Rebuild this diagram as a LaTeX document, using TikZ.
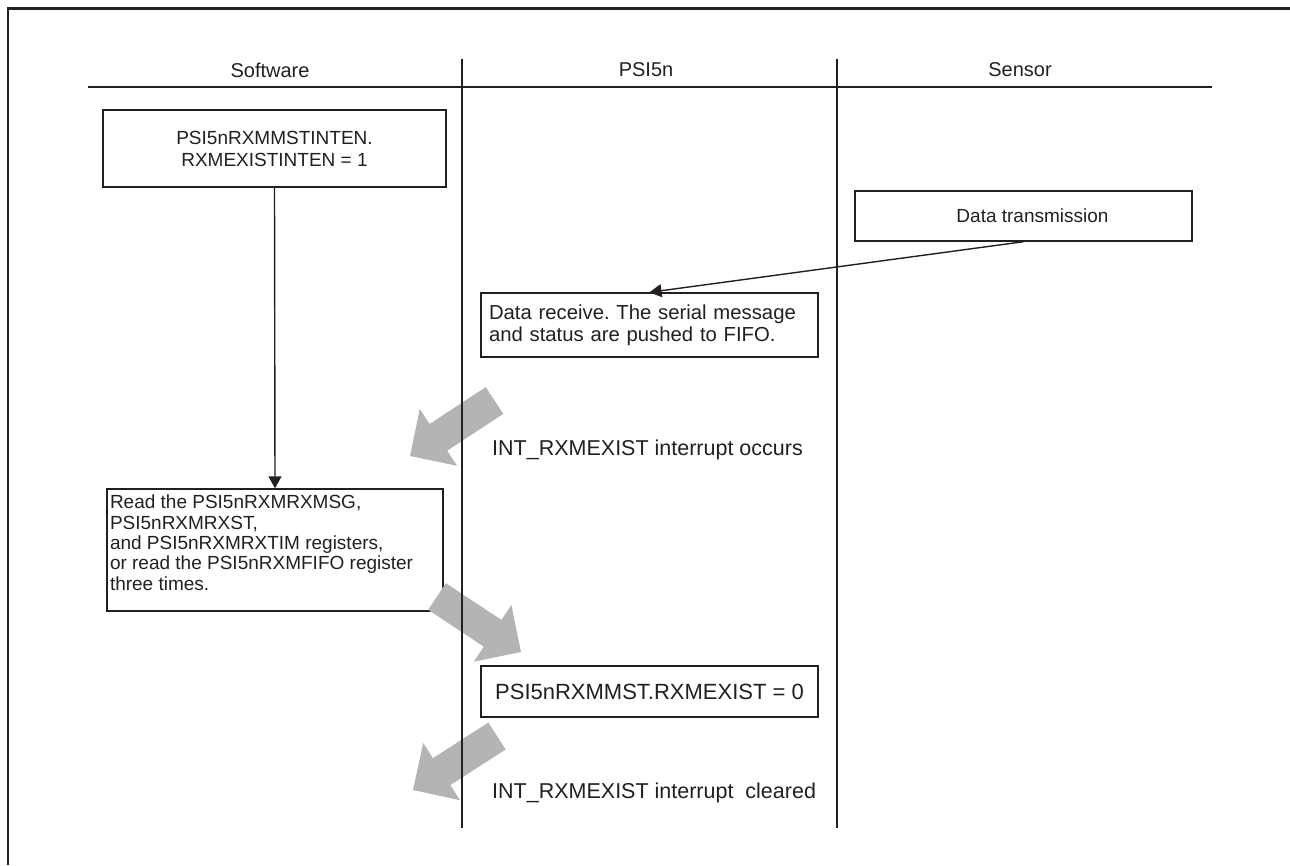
\documentclass[tikz,border=0pt]{standalone}
\usepackage{fontspec}
\setmainfont{Liberation Sans}
\frenchspacing
\usetikzlibrary{arrows.meta,calc}
\definecolor{ink}{RGB}{35,31,32}
\definecolor{arrowgray}{RGB}{179,180,182}
\newcommand\grayblock[3]{% name, tail, tip
  \coordinate (#1j) at ($(#3)!34pt!(#2)$);
  \fill[blockarrow] ($(#2)!16pt!90:(#3)$) -- ($(#1j)!16pt!90:(#3)$) -- ($(#1j)!34pt!90:(#3)$) -- (#3)
    -- ($(#1j)!34pt!-90:(#3)$) -- ($(#1j)!16pt!-90:(#3)$) -- ($(#2)!16pt!-90:(#3)$) -- cycle;
}
\tikzset{
  box/.style={draw=ink, line width=1.4pt, inner sep=0pt, text=ink},
  lane/.style={draw=ink, line width=2.2pt},
  hdr/.style={text=ink, inner sep=0pt, font=\fontsize{20}{24}\selectfont},
  conn/.style={draw=ink, line width=1.4pt, -{Triangle[length=12pt,width=13pt]}},
  blockarrow/.style={fill=arrowgray},
  note/.style={text=ink, anchor=west, inner sep=0pt, font=\fontsize{21.5}{24}\selectfont},
}
\begin{document}
\begin{tikzpicture}[x=1pt,y=-1pt]
\useasboundingbox (0,0) rectangle (1290,865);
% frame
\coordinate (ftl) at (7,8.5);
\coordinate (ftr) at (1290,8.5);
\coordinate (flt) at (8,7);
\coordinate (flb) at (8,865);
\draw[ink, line width=3pt] (ftl) -- (ftr);
\draw[ink, line width=2pt] (flt) -- (flb);
% header
\node[hdr] (sw) at (270,70) {Software};
\node[hdr] (psi) at (646,70) {PSI5n};
\node[hdr] (sen) at (1020,70) {Sensor};
\coordinate (hl) at (88,87);
\coordinate (hr) at (1212,87);
\draw[ink, line width=2.4pt] (hl) -- (hr);
% boxes
\node[box, minimum width=343pt, minimum height=77pt, align=center, font=\fontsize{19}{22}\selectfont]
  (inten) at (274.5,148.5) {PSI5nRXMMSTINTEN.\\RXMEXISTINTEN = 1};
\node[box, minimum width=337pt, minimum height=50pt, font=\fontsize{19}{22}\selectfont]
  (tx) at (1023.5,216) {\hspace*{18pt}Data transmission};
\node[box, minimum width=337pt, minimum height=64pt, text width=321pt, align=left, font=\fontsize{20.3}{22}\selectfont]
  (recv) at (649.5,325) {Data receive. The serial message\\and status are pushed to FIFO.};
\node[box, minimum width=336pt, minimum height=122pt, font=\fontsize{19}{20.4}\selectfont]
  (read) at (275,550) {\parbox[c][110pt][t]{330pt}{\raggedright Read the PSI5nRXMRXMSG,\\PSI5nRXMRXST,\\and PSI5nRXMRXTIM registers,\\or read the PSI5nRXMFIFO register\\three times.}};
\node[box, minimum width=337pt, minimum height=51pt, font=\fontsize{22}{24}\selectfont]
  (clr) at (649.5,691.5) {PSI5nRXMMST.RXMEXIST = 0};
% notes
\node[note] (occ) at (492,450) {INT\_RXMEXIST interrupt occurs};
\node[note] (clrd) at (492,793) {INT\_RXMEXIST interrupt~~cleared};
% connectors
\draw[conn] (inten.south) -- (read.north);
\draw[conn] (tx.south) -- (recv.north);
% gray block arrows
\coordinate (g1t) at (494.5,400.5);
\coordinate (g1p) at (410,456);
\coordinate (g2t) at (437,596.5);
\coordinate (g2p) at (521,652);
\coordinate (g3t) at (497,736);
\coordinate (g3p) at (413,790);
\grayblock{g1}{g1t}{g1p}
\grayblock{g2}{g2t}{g2p}
\grayblock{g3}{g3t}{g3p}
% lane dividers
\coordinate (d1t) at (462,59);
\coordinate (d1b) at (462,828);
\coordinate (d2t) at (837,59);
\coordinate (d2b) at (837,828);
\draw[lane] (d1t) -- (d1b);
\draw[lane] (d2t) -- (d2b);
\end{tikzpicture}
\end{document}
